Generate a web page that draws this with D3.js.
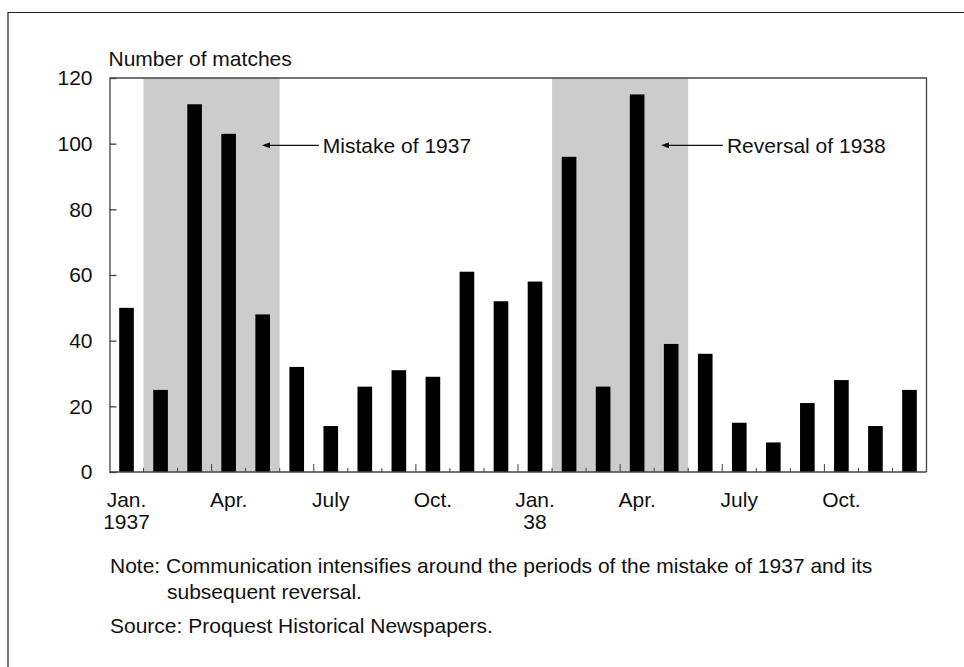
<!DOCTYPE html>
<html lang="en">
<head>
  <meta charset="UTF-8" />
  <title> Number of matches </title>
  <style>
    body { margin: 0; background: #fff; }
    svg text { font-family: "Liberation Sans", Arial, Helvetica, sans-serif; fill: #111; }
  </style>
</head>
<body>
  <div id="chart"></div>

  <script src="https://cdnjs.cloudflare.com/ajax/libs/d3/7.8.4/d3.min.js"></script>
  <script>
    const width = 964, height = 667;
    const margin = { top: 78, right: 37.5, bottom: 195, left: 109.5 };
    const fs = 21;

    // Monthly counts, Jan. 1937 - Dec. 1938
    const months = d3.range(24);
    const matches = [50, 25, 112, 103, 48, 32, 14, 26, 31, 29, 61, 52,
                     58, 96, 26, 115, 39, 36, 15, 9, 21, 28, 14, 25];

    // tick labels sit under every third month
    const tickMonths = [0, 3, 6, 9, 12, 15, 18, 21];
    const tickLabels = [["Jan.", "1937"], ["Apr."], ["July"], ["Oct."],
                        ["Jan.", "38"], ["Apr."], ["July"], ["Oct."]];
    const yTicks = [0, 20, 40, 60, 80, 100, 120];

    // shaded periods, in month boundaries (start, end)
    const periods = [[1, 5], [13, 17]];
    const notes = [
      { label: "Mistake of 1937", tip: 4.48, tail: 6.15, value: 99.5 },
      { label: "Reversal of 1938", tip: 16.2, tail: 18.02, value: 99.5 }
    ];

    const svg = d3.select("#chart").append("svg")
      .attr("width", width).attr("height", height);

    const x0 = margin.left, x1 = width - margin.right;
    const y0 = height - margin.bottom, y1 = margin.top;

    const x = d3.scaleBand().domain(months).range([x0, x1])
      .paddingInner(0.57).paddingOuter(0.285);
    // month boundaries
    const xb = d3.scaleLinear().domain([0, 24]).range([x0, x1]);
    const y = d3.scaleLinear().domain([0, 120]).range([y0, y1]);

    // outer box (only top and left edges show)
    svg.append("path")
      .attr("d", `M8,${height}V12.5H${width}`)
      .attr("fill", "none").attr("stroke", "#222").attr("stroke-width", 1.2);

    // shading
    svg.append("g").selectAll("rect")
      .data(periods)
      .enter().append("rect")
      .attr("x", d => xb(d[0]))
      .attr("width", d => xb(d[1]) - xb(d[0]))
      .attr("y", y(120))
      .attr("height", y(0) - y(120))
      .attr("fill", "#cccccc");

    // bars
    svg.append("g").selectAll("rect")
      .data(months)
      .enter().append("rect")
      .attr("x", d => x(d))
      .attr("width", x.bandwidth())
      .attr("y", d => y(matches[d]))
      .attr("height", d => y(0) - y(matches[d]))
      .attr("fill", "#000");

    // y axis, ticks pointing inward
    const yAxis = svg.append("g")
      .attr("transform", `translate(${x0},0)`)
      .call(d3.axisLeft(y).tickValues(yTicks).tickSize(-7).tickSizeOuter(0).tickPadding(17));
    yAxis.selectAll("path, line").attr("stroke", "#444").attr("stroke-width", 1.3);
    yAxis.selectAll("text").attr("font-size", fs).attr("fill", "#111");
    yAxis.attr("font-family", null);

    // x axis line and boundary ticks
    const xAxis = svg.append("g");
    xAxis.append("line")
      .attr("x1", x0).attr("x2", x1).attr("y1", y0).attr("y2", y0)
      .attr("stroke", "#444").attr("stroke-width", 1.5);
    xAxis.selectAll(".tick")
      .data(d3.range(1, 24))
      .enter().append("line")
      .attr("x1", d => xb(d)).attr("x2", d => xb(d))
      .attr("y1", y0).attr("y2", d => y0 - (d % 3 === 0 ? 8 : 4))
      .attr("stroke", "#444").attr("stroke-width", 1);

    const lbl = xAxis.selectAll(".lbl")
      .data(tickMonths)
      .enter().append("text")
      .attr("text-anchor", "middle")
      .attr("font-size", fs)
      .attr("y", y0 + 35);
    lbl.selectAll("tspan")
      .data((d, i) => tickLabels[i].map(t => ({ t, m: d })))
      .enter().append("tspan")
      .attr("x", d => x(d.m) + x.bandwidth() / 2)
      .attr("dy", (d, j) => j === 0 ? 0 : 22)
      .text(d => d.t);

    // frame top and right
    svg.append("path")
      .attr("d", `M${x0},${y1}H${x1}V${y0}`)
      .attr("fill", "none").attr("stroke", "#444").attr("stroke-width", 1.3);

    // y title
    svg.append("text")
      .attr("x", x0 - 1).attr("y", y1 - 12)
      .attr("font-size", fs)
      .text("Number of matches");

    // annotations: line with a filled head at the tip
    const ann = svg.append("g").selectAll("g")
      .data(notes)
      .enter().append("g");
    ann.append("line")
      .attr("x1", d => xb(d.tail)).attr("x2", d => xb(d.tip) + 6)
      .attr("y1", d => y(d.value)).attr("y2", d => y(d.value))
      .attr("stroke", "#111").attr("stroke-width", 1.2);
    ann.append("path")
      .attr("d", d => {
        const tx = xb(d.tip), ty = y(d.value);
        return `M${tx},${ty}L${tx + 8},${ty - 3}L${tx + 8},${ty + 3}Z`;
      })
      .attr("fill", "#111");
    ann.append("text")
      .attr("x", d => xb(d.tail) + 4)
      .attr("y", d => y(d.value))
      .attr("dy", "0.36em")
      .attr("font-size", fs)
      .text(d => d.label);

    // notes below
    const foot = svg.append("g").attr("font-size", fs);
    foot.append("text").attr("x", 110).attr("y", 573)
      .text("Note: Communication intensifies around the periods of the mistake of 1937 and its");
    foot.append("text").attr("x", 167).attr("y", 599)
      .text("subsequent reversal.");
    foot.append("text").attr("x", 110).attr("y", 633)
      .text("Source: Proquest Historical Newspapers.");
  </script>
</body>
</html>
